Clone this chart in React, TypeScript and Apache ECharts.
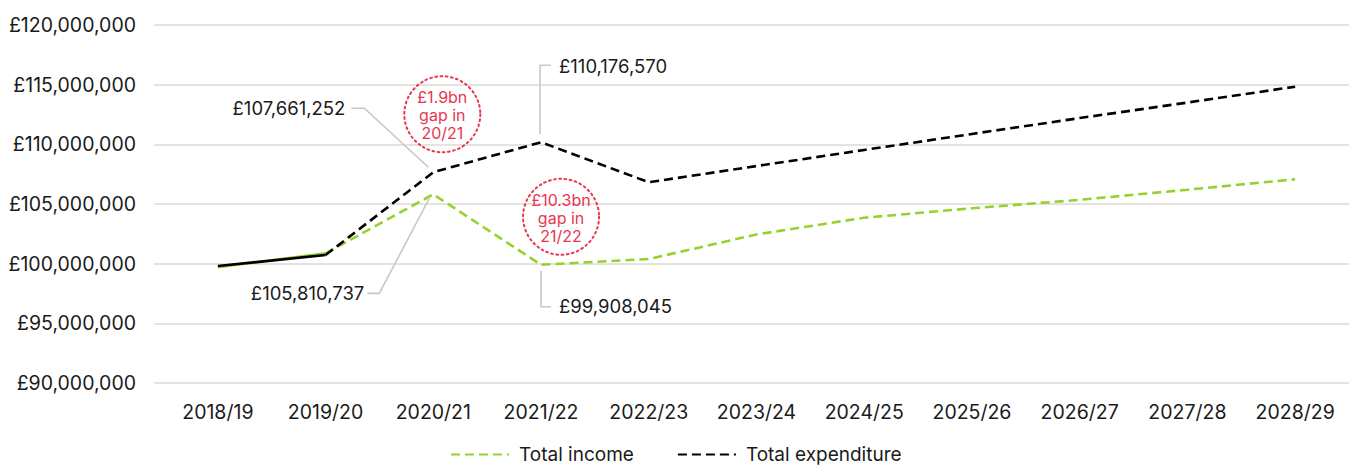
import React, { useEffect, useRef } from "react";
import * as echarts from "echarts";

const categories = ["2018/19", "2019/20", "2020/21", "2021/22", "2022/23", "2023/24", "2024/25", "2025/26", "2026/27", "2027/28", "2028/29"];
const incomeValues = [99700000, 100870000, 105810737, 99908045, 100390000, 102450000, 103850000, 104640000, 105350000, 106200000, 107070000];
const expenditureValues = [99800000, 100730000, 107661252, 110176570, 106820000, 108180000, 109530000, 110870000, 112200000, 113500000, 114830000];
const actualCount = 2; // first two years drawn solid
const gapNotes = ["£1.9bn\ngap in\n20/21", "£10.3bn\ngap in\n21/22"];

const GREEN = "#97d12e";
const BLACK = "#000000";
const RED = "#e8374f";
const LEADER = "#ccc7c0";
const GRID = "#e6e2dd";
const FONT = "Inter";
const INK = "#1a1a1a";

const fmt = (v: number) => "£" + Math.round(v).toLocaleString("en-GB");

export default function App() {
  const ref = useRef<HTMLDivElement>(null);
  useEffect(() => {
    document.body.style.margin = "0";
    const chart = echarts.init(ref.current!, null, { renderer: "svg" });
    const solid = (arr: number[]) => arr.map((v, i) => (i < actualCount ? v : null));
    const dashed = (arr: number[]) => arr.map((v, i) => (i >= actualCount - 1 ? v : null));
    const dash = [9, 5];
    chart.setOption({
      animation: false,
      textStyle: { fontFamily: FONT },
      grid: { left: 164, right: 12, top: 25, bottom: 84, containLabel: false },
      legend: {
        data: ["Total income", "Total expenditure"],
        left: 450,
        top: 445,
        padding: 0,
        itemWidth: 58,
        itemHeight: 14,
        itemGap: 43,
        itemStyle: { opacity: 0 },
        textStyle: { fontFamily: FONT, fontSize: 19, color: INK, padding: [0, 0, 0, 5] },
      },
      xAxis: {
        type: "category",
        data: categories,
        boundaryGap: true,
        axisLine: { show: false },
        axisTick: { show: false },
        axisLabel: { fontFamily: FONT, fontSize: 19.5, color: INK, margin: 19 },
      },
      yAxis: {
        type: "value",
        min: 90000000,
        max: 120000000,
        interval: 5000000,
        axisLine: { show: false },
        axisTick: { show: true, length: 10, lineStyle: { color: GRID, width: 2 } },
        splitLine: { lineStyle: { color: GRID, width: 2 } },
        axisLabel: { fontFamily: FONT, fontSize: 19.5, color: INK, margin: 28, formatter: (v: number) => fmt(v) },
      },
      series: [
        {
          name: "Total income",
          type: "line",
          data: dashed(incomeValues),
          symbol: "none",
          lineStyle: { color: GREEN, width: 2.6, type: dash },
          itemStyle: { color: GREEN },
          z: 2,
        },
        {
          name: "Total expenditure",
          type: "line",
          data: dashed(expenditureValues),
          symbol: "none",
          lineStyle: { color: BLACK, width: 2.6, type: dash },
          itemStyle: { color: BLACK },
          z: 3,
        },
        {
          name: "Total income (actual)",
          type: "line",
          data: solid(incomeValues),
          symbol: "none",
          lineStyle: { color: GREEN, width: 2.6, type: "solid" },
          z: 2,
        },
        {
          name: "Total expenditure (actual)",
          type: "line",
          data: solid(expenditureValues),
          symbol: "none",
          lineStyle: { color: BLACK, width: 2.6, type: "solid" },
          z: 3,
        },
      ],
    });

    const px = (i: number, v: number) => chart.convertToPixel({ gridIndex: 0 }, [categories[i], v]) as number[];
    const A = px(2, expenditureValues[2]);
    const B = px(2, incomeValues[2]);
    const C = px(3, expenditureValues[3]);
    const D = px(3, incomeValues[3]);
    const lineStyle = { stroke: LEADER, lineWidth: 1.6, fill: "none" };
    const valText = (x: number, y: number, v: number, align: string) => ({
      type: "text",
      x,
      y,
      style: { text: fmt(v), fontFamily: FONT, fontSize: 18.5, fill: INK, textAlign: align, textVerticalAlign: "middle" },
      z: 10,
    });
    const note = (cx: number, cy: number, t: string) => [
      {
        type: "circle",
        shape: { cx, cy, r: 38 },
        style: { fill: "rgba(255,255,255,0)", stroke: RED, lineWidth: 2, lineDash: [1.8, 3.4], lineCap: "round" },
        z: 10,
      },
      {
        type: "text",
        x: cx,
        y: cy + 1,
        style: { text: t, fontFamily: FONT, fontSize: 16, lineHeight: 18, fill: RED, textAlign: "center", textVerticalAlign: "middle" },
        z: 10,
      },
    ];
    chart.setOption({
      graphic: [
        { type: "polyline", shape: { points: [[A[0] - 82, A[1] - 64], [A[0] - 69, A[1] - 64], [A[0] - 5, A[1] - 5]] }, style: lineStyle, z: 9 },
        valText(A[0] - 88, A[1] - 64, expenditureValues[2], "right"),
        { type: "polyline", shape: { points: [[B[0] - 66, B[1] + 99], [B[0] - 54, B[1] + 99], [B[0] - 4, B[1] + 4]] }, style: lineStyle, z: 9 },
        valText(B[0] - 69, B[1] + 99, incomeValues[2], "right"),
        { type: "polyline", shape: { points: [[C[0] - 1, C[1] - 8], [C[0] - 1, C[1] - 77], [C[0] + 10, C[1] - 77]] }, style: lineStyle, z: 9 },
        valText(C[0] + 18, C[1] - 76, expenditureValues[3], "left"),
        { type: "polyline", shape: { points: [[D[0], D[1] + 6], [D[0], D[1] + 42], [D[0] + 10, D[1] + 42]] }, style: lineStyle, z: 9 },
        valText(D[0] + 18, D[1] + 41, incomeValues[3], "left"),
        ...note(A[0] + 9, A[1] - 58, gapNotes[0]),
        ...note(C[0] + 20, D[1] - 48, gapNotes[1]),
      ],
    });
    return () => chart.dispose();
  }, []);
  return <div ref={ref} style={{ width: 1361, height: 467 }} />;
}
